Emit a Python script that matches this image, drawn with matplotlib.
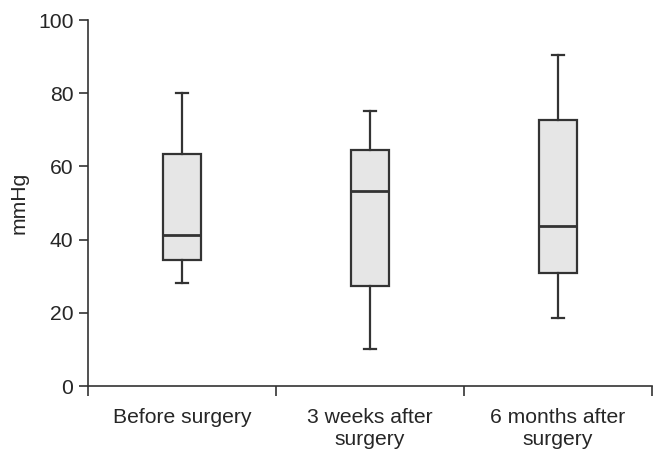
import matplotlib
matplotlib.use("Agg")
import matplotlib.pyplot as plt

categories = ["Before surgery", "3 weeks after\nsurgery", "6 months after\nsurgery"]
whisker_low = [28.1, 10.0, 18.6]
q1 = [34.5, 27.3, 30.8]
median = [41.2, 53.2, 43.7]
q3 = [63.3, 64.5, 72.6]
whisker_high = [80.1, 75.2, 90.5]
yticks = [0, 20, 40, 60, 80, 100]

plt.rcParams['font.family'] = ['Liberation Sans', 'DejaVu Sans']

fig = plt.figure(figsize=(6.62, 4.61), dpi=100)
ax = fig.add_axes([88/662, 1-386/461, (652-88)/662, (386-20)/461])

stats = []
for i in range(len(categories)):
    stats.append(dict(whislo=whisker_low[i], q1=q1[i], med=median[i], q3=q3[i],
                      whishi=whisker_high[i], fliers=[], label=categories[i]))

col = '#333333'
tcol = '#262626'
positions = [i + 0.5 for i in range(len(categories))]
ax.bxp(stats, positions=positions, widths=0.207, patch_artist=True, showfliers=False,
       boxprops=dict(facecolor='#e6e6e6', edgecolor=col, linewidth=1.6),
       medianprops=dict(color=col, linewidth=2.0),
       whiskerprops=dict(color=col, linewidth=1.6),
       capprops=dict(color=col, linewidth=1.6),
       capwidths=0.062)

ax.set_xlim(0, 3)
ax.set_ylim(0, 100)
ax.set_yticks(yticks)
ax.set_xticks([0, 1, 2, 3])
ax.set_xticklabels([])
ax.set_xticks(positions, minor=True)
ax.set_xticklabels(categories, minor=True, fontsize=15.2, color=tcol, linespacing=1.2)
ax.tick_params(axis='x', which='minor', length=0, pad=16)
ax.tick_params(axis='x', which='major', length=7, width=1.2, color=col, direction='out')
ax.tick_params(axis='y', length=6.5, width=1.2, color=col, labelsize=15.2, labelcolor=tcol, pad=4)
for s in ['top', 'right']:
    ax.spines[s].set_visible(False)
for s in ['left', 'bottom']:
    ax.spines[s].set_color(col)
    ax.spines[s].set_linewidth(1.2)
ax.set_ylabel("mmHg", fontsize=15.2, color=tcol, labelpad=7)

fig.savefig("out.png", dpi=100)
